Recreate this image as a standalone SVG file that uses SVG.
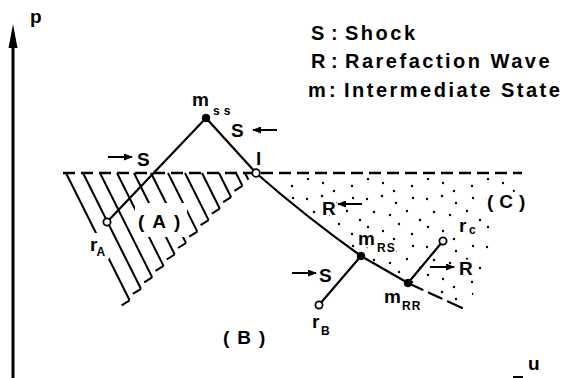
<svg xmlns="http://www.w3.org/2000/svg" width="571" height="378" viewBox="0 0 571 378">
<style>
  .ln{fill:none;stroke:#000;stroke-width:2.2;stroke-linecap:round}
  .dash{fill:none;stroke:#000;stroke-width:2.4;stroke-dasharray:12 6}
  .hatch{fill:none;stroke:#000;stroke-width:2}
  .t{font-family:"Liberation Sans",Arial,sans-serif;font-weight:bold;font-size:19px;fill:#000}
  .sub{font-family:"Liberation Sans",Arial,sans-serif;font-weight:bold;font-size:12px;fill:#000}
  .leg{font-family:"Liberation Sans",Arial,sans-serif;font-weight:bold;font-size:20px;letter-spacing:2.5px;fill:#000}
  .halo{paint-order:stroke;stroke:#fff;stroke-width:5px;stroke-linejoin:round}
  .full{fill:#000;stroke:#000;stroke-width:1}
  .open{fill:#fff;stroke:#000;stroke-width:1.8}
  .arr{fill:none;stroke:#000;stroke-width:2;marker-end:url(#ah)}
</style>
<defs>
  <marker id="ah" markerUnits="userSpaceOnUse" markerWidth="9" markerHeight="7" refX="8" refY="3.5" orient="auto">
    <path d="M0,0 L9,3.5 L0,7 z" fill="#000"/>
  </marker>
  <pattern id="dots" patternUnits="userSpaceOnUse" width="60" height="48" x="3" y="2">
    <g fill="#000">
      <circle cx="4" cy="5" r="1.2"/>
      <circle cx="19" cy="2" r="1.2"/>
      <circle cx="33" cy="9" r="1.2"/>
      <circle cx="50" cy="4" r="1.2"/>
      <circle cx="11" cy="18" r="1.2"/>
      <circle cx="27" cy="21" r="1.2"/>
      <circle cx="44" cy="17" r="1.2"/>
      <circle cx="57" cy="26" r="1.2"/>
      <circle cx="5" cy="33" r="1.2"/>
      <circle cx="20" cy="37" r="1.2"/>
      <circle cx="36" cy="30" r="1.2"/>
      <circle cx="49" cy="40" r="1.2"/>
      <circle cx="31" cy="45" r="1.2"/>
    </g>
  </pattern>
</defs>
<rect width="571" height="378" fill="#fff"/>

<g id="axes">
  <line x1="13" y1="44" x2="13" y2="378" stroke="#000" stroke-width="3"/>
  <path d="M13,24 L17.5,48 L8.5,48 z" fill="#000"/>
  <text class="t" x="30" y="23">p</text>
  <text class="t" x="528" y="370">u</text>
  <line x1="513" y1="377" x2="523" y2="377" stroke="#000" stroke-width="2"/>
</g>

<g id="legend">
  <text class="leg" y="39.5"><tspan x="311">S</tspan><tspan x="331">:</tspan><tspan x="345">Shock</tspan></text>
  <text class="leg" y="68"><tspan x="311">R</tspan><tspan x="331">:</tspan><tspan x="345">Rarefaction Wave</tspan></text>
  <text class="leg" y="96.5"><tspan x="308">m</tspan><tspan x="329">:</tspan><tspan x="344">Intermediate State</tspan></text>
</g>

<g id="region-A">
  <path class="hatch" d="M66,173L129.6,300.3 M83,173L140.9,288.8 M100,173L152.2,277.4 M117,173L163.5,265.9 M134,173L174.7,254.5 M151,173L186,243 M168,173L197.3,231.6 M185,173L208.6,220.1 M202,173L219.8,208.7 M219,173L231.1,197.2 M236,173L242.4,185.8 M245,173L248.4,179.7"/>
  <path class="hatch" d="M129.6,300.3l-8,5 M140.9,288.8l-8,5 M152.2,277.4l-8,5 M163.5,265.9l-8,5 M174.7,254.5l-8,5 M186,243l-8,5 M197.3,231.6l-8,5 M208.6,220.1l-8,5 M219.8,208.7l-8,5 M231.1,197.2l-8,5 M242.4,185.8l-8,5"/>
  <rect x="135" y="203" width="52" height="34" fill="#fff"/>
  <rect x="89" y="233" width="20" height="26" fill="#fff"/>
  <text class="t" x="138" y="228" letter-spacing="8">(A)</text>
</g>

<g id="region-C">
  <path d="M262,178 L520,178 L470,302 L462,306 L408,284 L361,256 Q305,216 262,178 z" fill="url(#dots)"/>
  <text class="t halo" x="487" y="208" letter-spacing="6">(C)</text>
</g>

<g id="region-B">
  <text class="t" x="223" y="344" letter-spacing="8">(B)</text>
</g>

<g id="connectors">
  <line class="dash" x1="63" y1="173" x2="522" y2="173"/>
  <line class="ln" x1="206" y1="118" x2="107" y2="222"/>
  <line class="ln" x1="206" y1="118" x2="256" y2="173"/>
  <path class="ln" d="M256,173 Q305,216 361,256 L408,283"/>
  <path class="ln" d="M408,283 L462,308" stroke-dasharray="0 4 12 7 14 7 14"/>
  <line class="ln" x1="361" y1="256" x2="319" y2="305"/>
  <line class="ln" x1="408" y1="283" x2="443" y2="241"/>
  <line class="arr" x1="108" y1="157" x2="132" y2="157"/>
  <text class="t" x="137" y="166">S</text>
  <line class="arr" x1="277" y1="130" x2="253" y2="130"/>
  <text class="t" x="231" y="137">S</text>
  <line class="arr" x1="362" y1="204" x2="338" y2="204"/>
  <text class="t halo" x="322" y="215">R</text>
  <line class="arr" x1="292" y1="273" x2="316" y2="273"/>
  <text class="t" x="319" y="282">S</text>
  <line class="arr" x1="430" y1="267" x2="454" y2="267"/>
  <text class="t halo" x="459" y="275">R</text>
</g>

<g id="m_ss">
  <circle class="full" cx="206" cy="118" r="3.8"/>
  <text class="t" x="192" y="106" font-size="17">m</text>
  <text class="sub" x="213" y="115" font-size="14" letter-spacing="4">ss</text>
</g>
<g id="l">
  <circle class="open" cx="256" cy="173" r="3.8"/>
  <text class="t" x="256" y="165" font-size="15">l</text>
</g>
<g id="r_A">
  <circle class="open" cx="107" cy="222" r="3.6"/>
  <text class="t" x="90" y="251">r</text>
  <text class="sub" x="96.5" y="256" font-size="9">A</text>
</g>
<g id="m_RS">
  <circle class="full" cx="361" cy="256" r="3.8"/>
  <text class="t halo" x="358" y="245">m</text>
  <text class="sub halo" x="377" y="252" letter-spacing="1">RS</text>
</g>
<g id="m_RR">
  <circle class="full" cx="408" cy="283" r="3.8"/>
  <text class="t halo" x="384" y="303">m</text>
  <text class="sub halo" x="402" y="310" letter-spacing="1">RR</text>
</g>
<g id="r_B">
  <circle class="open" cx="319" cy="305" r="3.6"/>
  <text class="t" x="312" y="328">r</text>
  <text class="sub" x="321" y="335" font-size="10">B</text>
</g>
<g id="r_C">
  <circle class="open" cx="443" cy="241" r="3.6"/>
  <text class="t halo" x="459" y="232">r</text>
  <text class="sub halo" x="469" y="234" font-size="10">c</text>
</g>
</svg>
